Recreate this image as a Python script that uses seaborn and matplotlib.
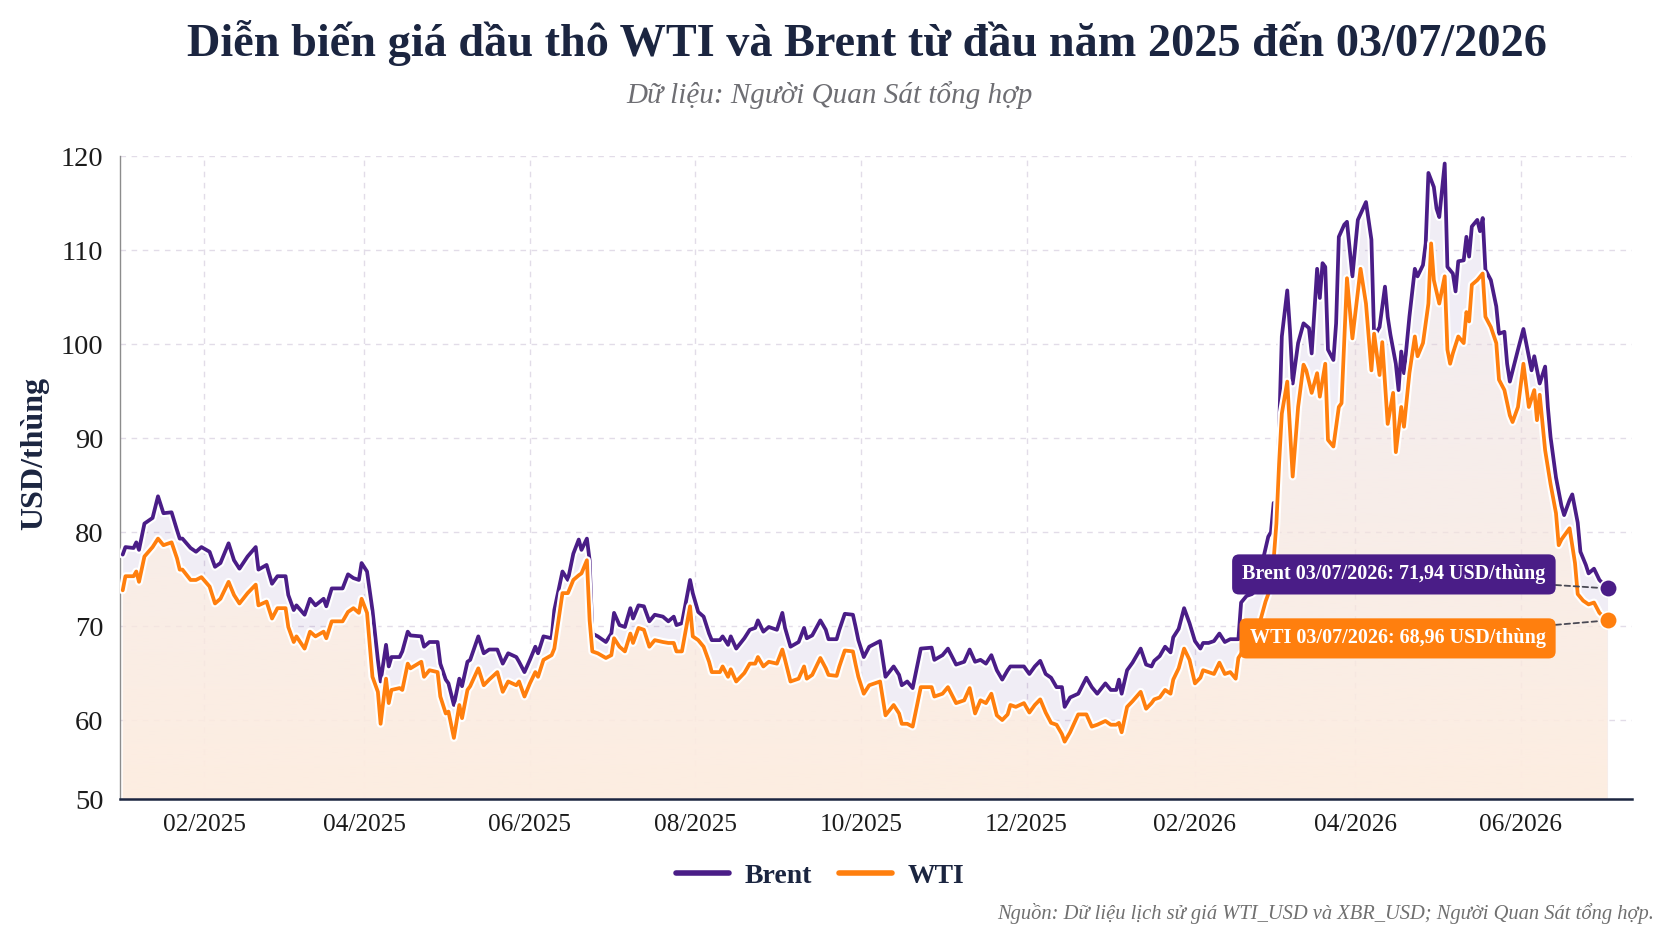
import numpy as np
import pandas as pd
import matplotlib
matplotlib.use("Agg")
import matplotlib.pyplot as plt
import matplotlib.dates as mdates
from matplotlib import patheffects as pe
from matplotlib.lines import Line2D
from matplotlib.patches import PathPatch
import seaborn as sns

# ---------------- data ----------------
brent_dates = [
    "2025-01-02", "2025-01-03", "2025-01-06", "2025-01-07", "2025-01-08", "2025-01-10", "2025-01-13", "2025-01-15",
    "2025-01-17", "2025-01-20", "2025-01-22", "2025-01-23", "2025-01-24", "2025-01-27", "2025-01-29", "2025-01-31",
    "2025-02-03", "2025-02-05", "2025-02-07", "2025-02-10", "2025-02-12", "2025-02-14", "2025-02-17", "2025-02-20",
    "2025-02-21", "2025-02-24", "2025-02-26", "2025-02-28", "2025-03-03", "2025-03-04", "2025-03-06", "2025-03-07",
    "2025-03-10", "2025-03-12", "2025-03-14", "2025-03-17", "2025-03-18", "2025-03-20", "2025-03-24", "2025-03-26",
    "2025-03-28", "2025-03-30", "2025-03-31", "2025-04-02", "2025-04-04", "2025-04-06", "2025-04-07", "2025-04-09",
    "2025-04-10", "2025-04-11", "2025-04-14", "2025-04-15", "2025-04-17", "2025-04-18",
    "2025-04-22", "2025-04-23", "2025-04-25", "2025-04-28", "2025-04-29", "2025-05-01", "2025-05-02", "2025-05-04",
    "2025-05-06", "2025-05-07", "2025-05-09", "2025-05-10", "2025-05-13", "2025-05-15", "2025-05-17", "2025-05-20",
    "2025-05-22", "2025-05-24", "2025-05-27", "2025-05-28", "2025-05-30", "2025-06-01", "2025-06-03", "2025-06-04",
    "2025-06-06", "2025-06-09", "2025-06-10", "2025-06-13", "2025-06-15", "2025-06-17", "2025-06-19", "2025-06-20",
    "2025-06-22", "2025-06-23", "2025-06-24", "2025-06-26", "2025-06-29", "2025-07-01", "2025-07-02", "2025-07-04",
    "2025-07-06", "2025-07-08", "2025-07-09", "2025-07-11", "2025-07-13", "2025-07-15", "2025-07-17", "2025-07-20",
    "2025-07-22", "2025-07-24", "2025-07-25", "2025-07-27", "2025-07-30", "2025-07-31", "2025-08-02", "2025-08-04",
    "2025-08-06",
    "2025-08-07", "2025-08-10", "2025-08-11", "2025-08-13", "2025-08-14", "2025-08-16", "2025-08-19", "2025-08-21",
    "2025-08-23", "2025-08-24", "2025-08-26", "2025-08-28", "2025-08-31", "2025-09-02", "2025-09-03", "2025-09-05",
    "2025-09-08", "2025-09-10", "2025-09-11", "2025-09-13", "2025-09-16", "2025-09-18", "2025-09-19", "2025-09-22",
    "2025-09-23", "2025-09-25", "2025-09-28", "2025-09-29", "2025-09-30", "2025-10-02", "2025-10-04", "2025-10-08",
    "2025-10-10", "2025-10-13", "2025-10-15", "2025-10-16", "2025-10-18", "2025-10-20", "2025-10-23", "2025-10-27",
    "2025-10-28", "2025-10-31", "2025-11-02", "2025-11-05", "2025-11-08", "2025-11-10", "2025-11-12", "2025-11-14",
    "2025-11-16", "2025-11-18", "2025-11-20", "2025-11-22",
    "2025-11-24", "2025-11-25", "2025-11-27", "2025-11-30", "2025-12-02", "2025-12-04", "2025-12-06", "2025-12-08",
    "2025-12-10", "2025-12-12", "2025-12-14", "2025-12-15", "2025-12-17", "2025-12-20", "2025-12-23", "2025-12-25",
    "2025-12-27", "2025-12-30", "2026-01-01", "2026-01-03", "2026-01-04", "2026-01-05", "2026-01-07", "2026-01-09",
    "2026-01-12", "2026-01-14", "2026-01-16", "2026-01-17", "2026-01-19", "2026-01-21", "2026-01-23", "2026-01-24",
    "2026-01-26", "2026-01-28", "2026-01-30", "2026-02-01", "2026-02-03", "2026-02-04", "2026-02-06", "2026-02-08",
    "2026-02-10", "2026-02-12", "2026-02-14",
    "2026-02-17", "2026-02-18", "2026-02-20", "2026-02-22", "2026-02-24", "2026-02-26", "2026-02-28", "2026-03-01",
    "2026-03-02", "2026-03-03", "2026-03-04", "2026-03-05", "2026-03-07", "2026-03-08", "2026-03-09", "2026-03-11",
    "2026-03-13", "2026-03-15", "2026-03-16", "2026-03-18", "2026-03-19", "2026-03-20", "2026-03-21", "2026-03-22",
    "2026-03-24", "2026-03-25", "2026-03-26", "2026-03-28", "2026-03-29", "2026-03-31", "2026-04-02", "2026-04-05",
    "2026-04-07", "2026-04-08", "2026-04-10", "2026-04-12", "2026-04-13", "2026-04-14", "2026-04-16", "2026-04-17",
    "2026-04-18", "2026-04-19", "2026-04-21", "2026-04-23", "2026-04-24", "2026-04-26", "2026-04-27", "2026-04-28",
    "2026-04-30", "2026-05-01", "2026-05-02", "2026-05-04", "2026-05-05", "2026-05-07", "2026-05-08", "2026-05-09",
    "2026-05-11", "2026-05-12", "2026-05-13", "2026-05-14", "2026-05-16", "2026-05-17", "2026-05-18", "2026-05-19",
    "2026-05-21", "2026-05-23", "2026-05-24", "2026-05-26", "2026-05-27", "2026-05-28", "2026-05-31", "2026-06-02",
    "2026-06-04", "2026-06-05", "2026-06-06", "2026-06-08", "2026-06-10", "2026-06-11", "2026-06-12", "2026-06-14",
    "2026-06-16", "2026-06-17", "2026-06-19", "2026-06-20", "2026-06-22", "2026-06-23", "2026-06-25", "2026-06-26",
    "2026-06-28", "2026-06-30", "2026-07-03",
]
brent = [
    77.6, 78.4, 78.3, 78.9, 78.1, 80.9, 81.5, 83.8,
    82.0, 82.1, 80.2, 79.3, 79.3, 78.3, 77.9, 78.4,
    77.9, 76.3, 76.7, 78.8, 77.0, 76.1, 77.4, 78.4,
    76.0, 76.5, 74.5, 75.3, 75.3, 73.3, 71.7, 72.2,
    71.2, 72.9, 72.2, 72.9, 72.1, 74.0, 74.0, 75.5,
    75.1, 74.9, 76.7, 75.8, 71.7, 66.4, 64.1, 68.0,
    65.7, 66.7, 66.7, 67.3, 69.4, 69.0,
    68.9, 67.8, 68.3, 68.3, 66.0, 64.3, 63.9, 61.6,
    64.4, 63.6, 66.2, 66.4, 68.9, 67.1, 67.5, 67.5,
    66.0, 67.1, 66.7, 66.2, 65.1, 66.4, 67.8, 67.1,
    68.9, 68.7, 71.7, 75.8, 74.9, 77.7, 79.2, 78.1,
    79.3, 77.0, 69.2, 68.9, 68.3, 69.2, 71.4, 70.1,
    69.9, 71.9, 70.8, 72.2, 72.1, 70.5, 71.2, 71.0,
    70.5, 71.0, 70.1, 70.3, 74.9, 73.5, 71.5, 71.0,
    69.2,
    68.5, 68.5, 68.9, 68.0, 68.9, 67.6, 68.7, 69.6,
    69.8, 70.6, 69.4, 69.9, 69.6, 71.4, 69.8, 67.8,
    68.3, 69.8, 68.7, 69.0, 70.6, 69.6, 68.6, 68.6,
    69.6, 71.3, 71.2, 69.9, 68.5, 66.7, 67.8, 68.4,
    64.6, 65.7, 64.8, 63.7, 64.1, 63.4, 67.6, 67.7,
    66.4, 66.9, 67.6, 65.9, 66.2, 67.5, 66.2, 66.4,
    66.0, 66.9, 65.3, 64.3,
    65.3, 65.7, 65.7, 65.7, 64.9, 65.7, 66.3, 64.9,
    64.5, 63.5, 63.5, 61.4, 62.4, 62.8, 64.5, 63.5,
    62.8, 63.9, 63.2, 63.2, 64.3, 62.8, 65.3, 66.1,
    67.6, 65.9, 65.7, 66.3, 66.8, 67.8, 67.2, 68.8,
    69.7, 71.9, 70.3, 68.4, 67.6, 68.2, 68.2, 68.4,
    69.2, 68.3, 68.6,
    68.6, 72.5, 73.2, 73.4, 74.0, 77.0, 79.5, 80.0,
    83.1, 83.0, 90.9, 100.8, 105.7, 101.5, 95.8, 100.1,
    102.2, 101.7, 99.0, 108.0, 104.9, 108.6, 108.2, 99.4,
    98.3, 102.2, 111.4, 112.7, 113.0, 107.2, 113.2, 115.1,
    111.1, 100.8, 101.8, 106.1, 102.9, 101.0, 97.9, 95.1,
    99.2, 96.9, 102.9, 108.0, 107.2, 108.4, 110.7, 118.2,
    116.7, 114.4, 113.5, 119.2, 108.2, 107.5, 105.6, 108.8,
    108.9, 111.4, 109.3, 112.5, 113.2, 112.0, 113.4, 107.9,
    106.8, 104.0, 101.1, 101.3, 97.9, 96.0, 99.4, 101.6,
    98.7, 97.2, 98.7, 95.8, 97.6, 93.3, 90.1, 85.8,
    82.8, 81.8, 83.4, 84.0, 81.0, 77.9, 76.5, 75.6,
    76.1, 74.9, 74.0,
]

wti_dates = [
    "2025-01-02", "2025-01-03", "2025-01-06", "2025-01-07", "2025-01-08", "2025-01-10", "2025-01-13", "2025-01-15",
    "2025-01-17", "2025-01-20", "2025-01-22", "2025-01-23", "2025-01-24", "2025-01-27", "2025-01-29", "2025-01-31",
    "2025-02-03", "2025-02-05", "2025-02-07", "2025-02-10", "2025-02-12", "2025-02-14", "2025-02-17", "2025-02-20",
    "2025-02-21", "2025-02-24", "2025-02-26", "2025-02-28", "2025-03-03", "2025-03-04", "2025-03-06", "2025-03-07",
    "2025-03-10", "2025-03-12", "2025-03-14", "2025-03-17", "2025-03-18", "2025-03-20", "2025-03-24", "2025-03-26",
    "2025-03-28", "2025-03-30", "2025-03-31", "2025-04-02", "2025-04-04", "2025-04-06", "2025-04-07", "2025-04-09",
    "2025-04-10", "2025-04-11", "2025-04-14", "2025-04-15", "2025-04-17", "2025-04-18",
    "2025-04-22", "2025-04-23", "2025-04-25", "2025-04-28", "2025-04-29", "2025-05-01", "2025-05-02", "2025-05-04",
    "2025-05-06", "2025-05-07", "2025-05-09", "2025-05-10", "2025-05-13", "2025-05-15", "2025-05-17", "2025-05-20",
    "2025-05-22", "2025-05-24", "2025-05-27", "2025-05-28", "2025-05-30", "2025-06-01", "2025-06-03", "2025-06-04",
    "2025-06-06", "2025-06-09", "2025-06-10", "2025-06-13", "2025-06-15", "2025-06-17", "2025-06-19", "2025-06-20",
    "2025-06-22", "2025-06-23", "2025-06-24", "2025-06-26", "2025-06-29", "2025-07-01", "2025-07-02", "2025-07-04",
    "2025-07-06", "2025-07-08", "2025-07-09", "2025-07-11", "2025-07-13", "2025-07-15", "2025-07-17", "2025-07-20",
    "2025-07-22", "2025-07-24", "2025-07-25", "2025-07-27", "2025-07-30", "2025-07-31", "2025-08-02", "2025-08-04",
    "2025-08-06",
    "2025-08-07", "2025-08-10", "2025-08-11", "2025-08-13", "2025-08-14", "2025-08-16", "2025-08-19", "2025-08-21",
    "2025-08-23", "2025-08-24", "2025-08-26", "2025-08-28", "2025-08-31", "2025-09-02", "2025-09-03", "2025-09-05",
    "2025-09-08", "2025-09-10", "2025-09-11", "2025-09-13", "2025-09-16", "2025-09-18", "2025-09-19", "2025-09-22",
    "2025-09-23", "2025-09-25", "2025-09-28", "2025-09-29", "2025-09-30", "2025-10-02", "2025-10-04", "2025-10-08",
    "2025-10-10", "2025-10-13", "2025-10-15", "2025-10-16", "2025-10-18", "2025-10-20", "2025-10-23", "2025-10-27",
    "2025-10-28", "2025-10-31", "2025-11-02", "2025-11-05", "2025-11-08", "2025-11-10", "2025-11-12", "2025-11-14",
    "2025-11-16", "2025-11-18", "2025-11-20", "2025-11-22",
    "2025-11-24", "2025-11-25", "2025-11-27", "2025-11-30", "2025-12-02", "2025-12-04", "2025-12-06", "2025-12-08",
    "2025-12-10", "2025-12-12", "2025-12-14", "2025-12-15", "2025-12-17", "2025-12-20", "2025-12-23", "2025-12-25",
    "2025-12-27", "2025-12-30", "2026-01-01", "2026-01-03", "2026-01-04", "2026-01-05", "2026-01-07", "2026-01-09",
    "2026-01-12", "2026-01-14", "2026-01-16", "2026-01-17", "2026-01-19", "2026-01-21", "2026-01-23", "2026-01-24",
    "2026-01-26", "2026-01-28", "2026-01-30", "2026-02-01", "2026-02-03", "2026-02-04", "2026-02-06", "2026-02-08",
    "2026-02-10", "2026-02-12", "2026-02-14",
    "2026-02-16", "2026-02-17", "2026-02-19", "2026-02-22", "2026-02-25", "2026-02-27", "2026-03-01", "2026-03-02",
    "2026-03-03", "2026-03-04", "2026-03-05", "2026-03-07", "2026-03-09", "2026-03-11", "2026-03-13", "2026-03-14",
    "2026-03-16", "2026-03-18", "2026-03-19", "2026-03-21", "2026-03-22", "2026-03-24", "2026-03-26", "2026-03-27",
    "2026-03-29", "2026-03-31", "2026-04-03", "2026-04-05", "2026-04-07", "2026-04-08", "2026-04-10", "2026-04-11",
    "2026-04-13", "2026-04-15", "2026-04-16", "2026-04-18", "2026-04-19", "2026-04-21", "2026-04-23", "2026-04-24",
    "2026-04-26", "2026-04-28", "2026-04-29", "2026-04-30", "2026-05-02", "2026-05-04", "2026-05-05", "2026-05-06",
    "2026-05-07", "2026-05-09", "2026-05-11", "2026-05-12", "2026-05-13", "2026-05-14", "2026-05-16", "2026-05-18",
    "2026-05-19", "2026-05-21", "2026-05-23", "2026-05-24", "2026-05-26", "2026-05-28", "2026-05-29", "2026-05-31",
    "2026-06-02", "2026-06-04", "2026-06-06", "2026-06-07", "2026-06-08", "2026-06-10", "2026-06-12", "2026-06-14",
    "2026-06-15", "2026-06-16", "2026-06-19", "2026-06-21", "2026-06-22", "2026-06-24", "2026-06-26", "2026-06-28",
    "2026-06-30", "2026-07-03",
]
wti = [
    73.8, 75.3, 75.3, 75.8, 74.7, 77.4, 78.4, 79.3,
    78.6, 78.9, 77.2, 76.0, 76.0, 74.9, 74.9, 75.2,
    74.2, 72.4, 72.9, 74.7, 73.3, 72.4, 73.5, 74.4,
    72.2, 72.6, 70.8, 71.9, 71.9, 69.9, 68.3, 68.9,
    67.6, 69.4, 68.9, 69.4, 68.7, 70.5, 70.5, 71.5,
    71.9, 71.4, 72.9, 71.4, 64.6, 63.0, 59.6, 64.4,
    61.8, 63.2, 63.4, 63.2, 66.0, 65.5,
    66.2, 64.6, 65.3, 65.1, 62.5, 60.7, 60.9, 58.1,
    61.6, 60.2, 63.2, 63.6, 65.5, 63.7, 64.3, 65.1,
    63.0, 64.1, 63.7, 64.1, 62.5, 63.9, 65.1, 64.6,
    66.4, 66.9, 67.6, 73.5, 73.5, 74.9, 75.4, 75.6,
    77.0, 70.6, 67.3, 67.1, 66.6, 66.9, 68.7, 67.8,
    67.3, 69.2, 68.2, 69.8, 69.6, 67.8, 68.5, 68.3,
    68.2, 68.2, 67.3, 67.3, 72.1, 68.9, 68.5, 67.8,
    66.2,
    65.1, 65.1, 65.7, 64.6, 65.4, 64.1, 65.0, 66.0,
    66.0, 66.7, 65.7, 66.2, 66.0, 67.5, 66.4, 64.1,
    64.4, 65.7, 64.4, 64.8, 66.6, 65.5, 64.8, 64.7,
    65.7, 67.4, 67.3, 65.9, 64.6, 62.8, 63.7, 64.1,
    60.5, 61.6, 60.7, 59.6, 59.6, 59.3, 63.5, 63.5,
    62.5, 62.8, 63.5, 61.8, 62.1, 63.4, 60.7, 62.1,
    61.8, 62.8, 60.5, 60.0,
    60.6, 61.6, 61.4, 61.8, 60.8, 61.6, 62.2, 60.8,
    59.7, 59.5, 58.5, 57.7, 58.7, 60.6, 60.6, 59.3,
    59.5, 59.9, 59.5, 59.5, 59.7, 58.7, 61.4, 62.0,
    63.0, 61.2, 61.8, 62.2, 62.4, 63.2, 62.8, 64.3,
    65.5, 67.6, 66.4, 63.9, 64.5, 65.3, 65.1, 64.9,
    66.1, 64.9, 65.1,
    64.4, 66.6, 67.5, 68.5, 70.5, 72.6, 74.2, 77.1,
    80.9, 87.3, 92.6, 96.0, 85.9, 93.3, 97.8, 97.2,
    94.8, 96.9, 94.4, 97.9, 89.8, 89.1, 93.3, 93.7,
    107.0, 100.6, 108.0, 104.3, 97.2, 101.1, 96.7, 100.2,
    91.5, 94.8, 88.5, 93.3, 91.2, 96.9, 100.8, 98.7,
    100.1, 104.3, 110.7, 106.8, 104.3, 107.2, 99.4, 97.9,
    99.0, 100.8, 100.1, 103.4, 102.4, 106.3, 106.8, 107.5,
    102.9, 101.8, 100.1, 96.2, 95.1, 92.4, 91.7, 93.3,
    97.9, 93.3, 95.1, 91.9, 94.6, 88.7, 85.1, 82.0,
    78.6, 79.2, 80.4, 76.7, 73.4, 72.7, 72.3, 72.5,
    71.4, 70.6,
]

series_names = ["Brent", "WTI"]
end_labels = ["Brent 03/07/2026: 71,94 USD/thùng", "WTI 03/07/2026: 68,96 USD/thùng"]
y_tick_values = [60, 70, 80, 90, 100, 110, 120]
title = "Diễn biến giá dầu thô WTI và Brent từ đầu năm 2025 đến 03/07/2026"
subtitle = "Dữ liệu: Người Quan Sát tổng hợp"
source = "Nguồn: Dữ liệu lịch sử giá WTI_USD và XBR_USD; Người Quan Sát tổng hợp."
y_label = "USD/thùng"

# ---------------- style ----------------
BRENT_C = "#4a1d87"
WTI_C = "#ff7f0e"
NAVY = "#1b2540"
Y_BOTTOM, Y_TOP = 51.6, 120

sns.set_theme(style="white")
plt.rcParams["font.family"] = ["Liberation Serif", "DejaVu Serif"]

W, H = 1672, 941
fig = plt.figure(figsize=(W / 100, H / 100), dpi=100, facecolor="white")
ax_l, ax_r, ax_t, ax_b = 120, 1632, 156, 799
ax = fig.add_axes([ax_l / W, 1 - ax_b / H, (ax_r - ax_l) / W, (ax_b - ax_t) / H])
ax.set_facecolor("white")

bd = pd.to_datetime(brent_dates)
wd = pd.to_datetime(wti_dates)
df = pd.concat([
    pd.DataFrame({"date": bd, "price": brent, "series": "Brent"}),
    pd.DataFrame({"date": wd, "price": wti, "series": "WTI"}),
], ignore_index=True)

x0 = pd.Timestamp("2025-01-01")
x1 = pd.Timestamp("2026-07-12")

# fills
ax.fill_between(bd, brent, Y_BOTTOM, color=BRENT_C, alpha=0.08, lw=0, zorder=1)
poly = ax.fill_between(wd, wti, Y_BOTTOM, facecolor="none", edgecolor="none")
clip = PathPatch(poly.get_paths()[0], transform=ax.transData, facecolor="none", edgecolor="none")
ax.add_patch(clip)
poly.remove()
n = 256
alpha = np.clip(1.0 - np.linspace(0, 1, n) * 1.05, 0.0, 1.0) ** 0.8
grad = np.zeros((n, 1, 4))
grad[..., 0] = 253 / 255
grad[..., 1] = 237 / 255
grad[..., 2] = 225 / 255
grad[..., 3] = alpha[:, None]
im = ax.imshow(grad, extent=[mdates.date2num(x0), mdates.date2num(x1), Y_BOTTOM, Y_TOP],
               origin="lower", aspect="auto", zorder=1.5, interpolation="bilinear")
im.set_clip_path(clip)

# lines
halo = [pe.Stroke(linewidth=5.8, foreground="white"), pe.Normal()]
sns.lineplot(data=df, x="date", y="price", hue="series", hue_order=series_names,
             palette={"Brent": BRENT_C, "WTI": WTI_C}, estimator=None, lw=2.7,
             legend=False, ax=ax, zorder=3, path_effects=halo)

# end points and labels
for dates, vals, color, label, dy in [
    (bd, brent, BRENT_C, end_labels[0], 14),
    (wd, wti, WTI_C, end_labels[1], -18),
]:
    ax.scatter([dates[-1]], [vals[-1]], s=160, color=color, edgecolor="white", lw=1.2, zorder=6)
    ax.annotate(label, xy=(dates[-1], vals[-1]), xytext=(-62, dy), textcoords="offset pixels",
                ha="right", va="center", fontsize=14.5, fontweight="bold", color="white",
                bbox=dict(boxstyle="round,pad=0.5,rounding_size=0.35", fc=color, ec="none"),
                arrowprops=dict(arrowstyle="-", ls=(0, (3, 2)), color="#4a4a55", lw=1.3,
                                shrinkA=0, shrinkB=7),
                zorder=7)

# axes
ax.set_xlim(x0, x1)
ax.set_ylim(Y_BOTTOM, Y_TOP)
ax.set_yticks([Y_BOTTOM] + y_tick_values)
ax.set_yticklabels(["50"] + [str(v) for v in y_tick_values])
ax.xaxis.set_major_locator(mdates.MonthLocator(bymonth=[2, 4, 6, 8, 10, 12]))
ax.xaxis.set_major_formatter(mdates.DateFormatter("%m/%Y"))
ax.set_xlabel("")
ax.set_ylabel("")
ax.grid(True, which="major", ls=(0, (4, 4)), color="#e2dce8", lw=1.0, zorder=0)
ax.set_axisbelow(True)
ax.tick_params(axis="y", length=0, labelsize=20.5, labelcolor="#1b1b1b", pad=12)
ax.tick_params(axis="x", length=0, labelsize=18.2, labelcolor="#1b1b1b", pad=11)
for s in ["top", "right"]:
    ax.spines[s].set_visible(False)
ax.spines["left"].set_color("#8c8c8c")
ax.spines["left"].set_linewidth(1.0)
ax.spines["bottom"].set_color(NAVY)
ax.spines["bottom"].set_linewidth(1.8)

# texts
fig.text(867 / W, 1 - 43 / H, title, ha="center", va="center", fontsize=33.3,
         fontweight="bold", color=NAVY)
fig.text(830 / W, 1 - 95 / H, subtitle, ha="center", va="center", fontsize=21,
         style="italic", color="#6e6e73")
fig.text(35 / W, 1 - 453 / H, y_label, ha="center", va="center", rotation=90,
         fontsize=23, fontweight="bold", color=NAVY)
fig.text(1654 / W, 1 - 914 / H, source, ha="right", va="center", fontsize=14.8,
         style="italic", color="#707070")

handles = [Line2D([0], [0], color=BRENT_C, lw=4, solid_capstyle="round"),
           Line2D([0], [0], color=WTI_C, lw=4, solid_capstyle="round")]
leg = fig.legend(handles, series_names, loc="center", bbox_to_anchor=(820 / W, 1 - 876 / H),
                 ncol=2, frameon=False, handlelength=1.9, columnspacing=1.0, handletextpad=0.55,
                 prop={"size": 20, "weight": "bold"})
for t in leg.get_texts():
    t.set_color(NAVY)

fig.savefig("out.png", dpi=100, facecolor="white")
